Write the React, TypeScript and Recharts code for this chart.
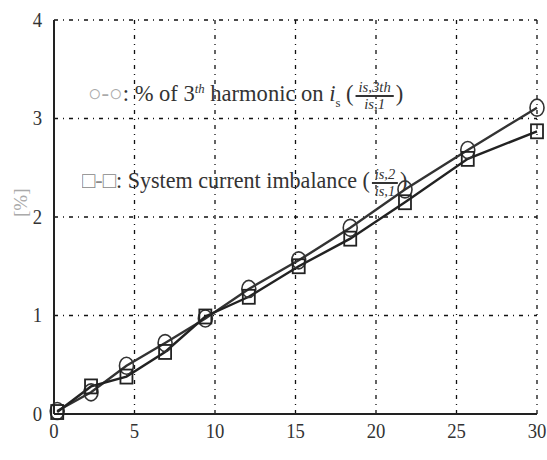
import React from "react";
import { LineChart, Line, XAxis, YAxis, CartesianGrid } from "recharts";

const xValues = [0.2, 2.3, 4.5, 6.9, 9.4, 12.1, 15.2, 18.4, 21.8, 25.7, 30];
const harmonic3 = [0.03, 0.22, 0.49, 0.72, 0.97, 1.27, 1.56, 1.89, 2.28, 2.68, 3.11];
const imbalance = [0.02, 0.28, 0.38, 0.63, 0.99, 1.19, 1.5, 1.78, 2.15, 2.59, 2.87];
const xTicks = [0, 5, 10, 15, 20, 25, 30];
const yTicks = [0, 1, 2, 3, 4];

const data = xValues.map((x, i) => ({ x, h: harmonic3[i], u: imbalance[i] }));

const serif = "'Liberation Serif', 'Times New Roman', 'DejaVu Serif', serif";

const CircleDot = (props: any) => {
  const { cx, cy, index } = props;
  if (cx == null || cy == null) return <g key={index} />;
  return <ellipse key={index} cx={cx} cy={cy} rx={7} ry={8.5} fill="none" stroke="#333" strokeWidth={1.6} />;
};

const SquareDot = (props: any) => {
  const { cx, cy, index } = props;
  if (cx == null || cy == null) return <g key={index} />;
  return <rect key={index} x={cx - 6} y={cy - 7} width={12} height={14} fill="none" stroke="#222" strokeWidth={1.8} />;
};

const XTick = (props: any) => {
  const { x, y, payload } = props;
  return (
    <text x={x} y={y + 16} textAnchor="middle" fill="#333" style={{ fontFamily: serif, fontSize: 22 }} transform={`translate(${x},0) scale(0.85,1) translate(${-x},0)`}>
      {payload.value}
    </text>
  );
};

const YTick = (props: any) => {
  const { x, y, payload } = props;
  return (
    <text x={x} y={y + 7} textAnchor="end" fill="#333" style={{ fontFamily: serif, fontSize: 22 }} transform={`translate(${x},0) scale(0.85,1) translate(${-x},0)`}>
      {payload.value}
    </text>
  );
};

const Frac = ({ num, den }: { num: string; den: string }) => (
  <span style={{ display: "inline-flex", flexDirection: "column", alignItems: "center", verticalAlign: "middle", fontSize: 15, lineHeight: "15px", fontStyle: "italic", margin: "0 2px" }}>
    <span style={{ borderBottom: "2px solid #333", padding: "0 3px" }}>{num}</span>
    <span>{den}</span>
  </span>
);

export default function App() {
  return (
    <div style={{ position: "absolute", left: 0, top: 0, width: 547, height: 460, background: "#fff", fontFamily: serif }}>
      <LineChart width={547} height={460} data={data} margin={{ top: 20, right: 10, bottom: 16, left: 14 }}>
        <CartesianGrid stroke="#111" strokeWidth={1.3} strokeDasharray="4 5 1 5" />
        <XAxis
          dataKey="x"
          type="number"
          domain={[0, 30]}
          ticks={xTicks}
          height={30}
          tickLine={false}
          axisLine={{ stroke: "#222", strokeWidth: 2 }}
          tick={<XTick />}
        />
        <XAxis xAxisId="top" orientation="top" type="number" domain={[0, 30]} height={0} tick={false} tickLine={false} axisLine={{ stroke: "#222", strokeWidth: 2 }} />
        <YAxis
          type="number"
          domain={[0, 4]}
          ticks={yTicks}
          width={40}
          tickLine={false}
          axisLine={{ stroke: "#222", strokeWidth: 2 }}
          tick={<YTick />}
          tickMargin={6}
          label={{ value: "[%]", angle: -90, position: "insideLeft", offset: 6, fill: "#aaa", fontSize: 19, style: { fontFamily: serif } }}
        />
        <YAxis yAxisId="right" orientation="right" domain={[0, 4]} width={0} tick={false} tickLine={false} axisLine={{ stroke: "#222", strokeWidth: 2 }} />
        <Line type="linear" dataKey="h" stroke="#333" strokeWidth={2.4} dot={CircleDot} isAnimationActive={false} />
        <Line type="linear" dataKey="u" stroke="#222" strokeWidth={2.4} dot={SquareDot} isAnimationActive={false} />
      </LineChart>
      <div style={{ position: "absolute", left: 88, top: 80, fontSize: 23, color: "#333", whiteSpace: "nowrap", transform: "scaleX(0.98)", transformOrigin: "left center" }}>
        <span style={{ color: "#aaa" }}>○-○</span>: % of 3<sup style={{ fontSize: 13, fontStyle: "italic" }}>th</sup> harmonic on <i>i</i><sub style={{ fontSize: 13 }}>s</sub> (<Frac num="is,3th" den="is,1" />)
      </div>
      <div style={{ position: "absolute", left: 82, top: 167, fontSize: 23, color: "#333", whiteSpace: "nowrap", transform: "scaleX(0.96)", transformOrigin: "left center" }}>
        <span style={{ color: "#888" }}>□-□</span>: System current imbalance (<Frac num="is,2" den="is,1" />)
      </div>
    </div>
  );
}
